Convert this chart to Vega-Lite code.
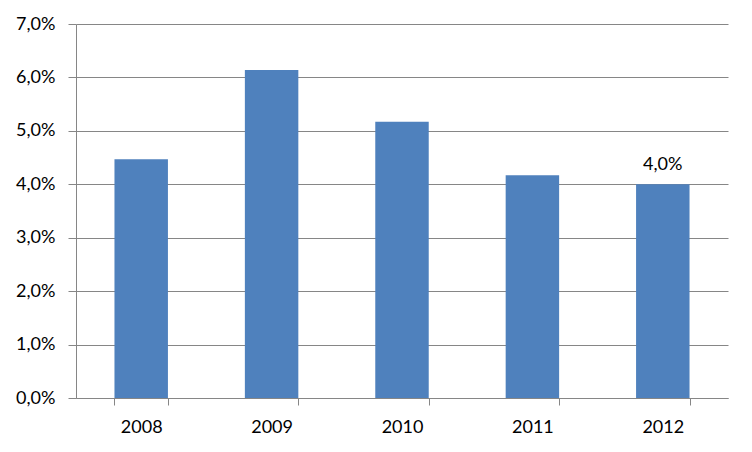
{
  "$schema": "https://vega.github.io/schema/vega-lite/v6.json",
  "width": 652,
  "height": 374,
  "autosize": "none",
  "padding": {"left": 76, "top": 24, "right": 24, "bottom": 54},
  "background": "white",
  "data": {"values": [
    {"year": "2008", "value": 0.0447, "label": ""},
    {"year": "2009", "value": 0.0614, "label": ""},
    {"year": "2010", "value": 0.0517, "label": ""},
    {"year": "2011", "value": 0.0417, "label": ""},
    {"year": "2012", "value": 0.0400, "label": "4,0%"}
  ]},
  "encoding": {
    "x": {
      "field": "year", "type": "ordinal",
      "scale": {"paddingInner": 0.59, "paddingOuter": 0.295},
      "axis": {
        "title": null, "labelAngle": 0, "tickBand": "extent",
        "domainColor": "#868686", "tickColor": "#868686", "tickSize": 7,
        "labelFont": "Lato", "labelFontSize": 18, "labelColor": "#000000",
        "labelPadding": 13
      }
    },
    "y": {
      "field": "value", "type": "quantitative",
      "scale": {"domain": [0, 0.07], "nice": false},
      "axis": {
        "title": null, "values": [0, 0.01, 0.02, 0.03, 0.04, 0.05, 0.06, 0.07],
        "labelExpr": "replace(format(datum.value, '.1%'), '.', ',')",
        "grid": true, "gridColor": "#868686",
        "domainColor": "#868686", "tickColor": "#868686", "tickSize": 8,
        "labelFont": "Lato", "labelFontSize": 18, "labelColor": "#000000",
        "labelPadding": 13
      }
    }
  },
  "layer": [
    {"mark": {"type": "bar", "color": "#4F81BD"}},
    {
      "mark": {"type": "text", "baseline": "alphabetic", "dy": -14, "font": "Lato", "fontSize": 18, "color": "#000000"},
      "encoding": {"text": {"field": "label"}}
    }
  ],
  "config": {"view": {"stroke": null}}
}
